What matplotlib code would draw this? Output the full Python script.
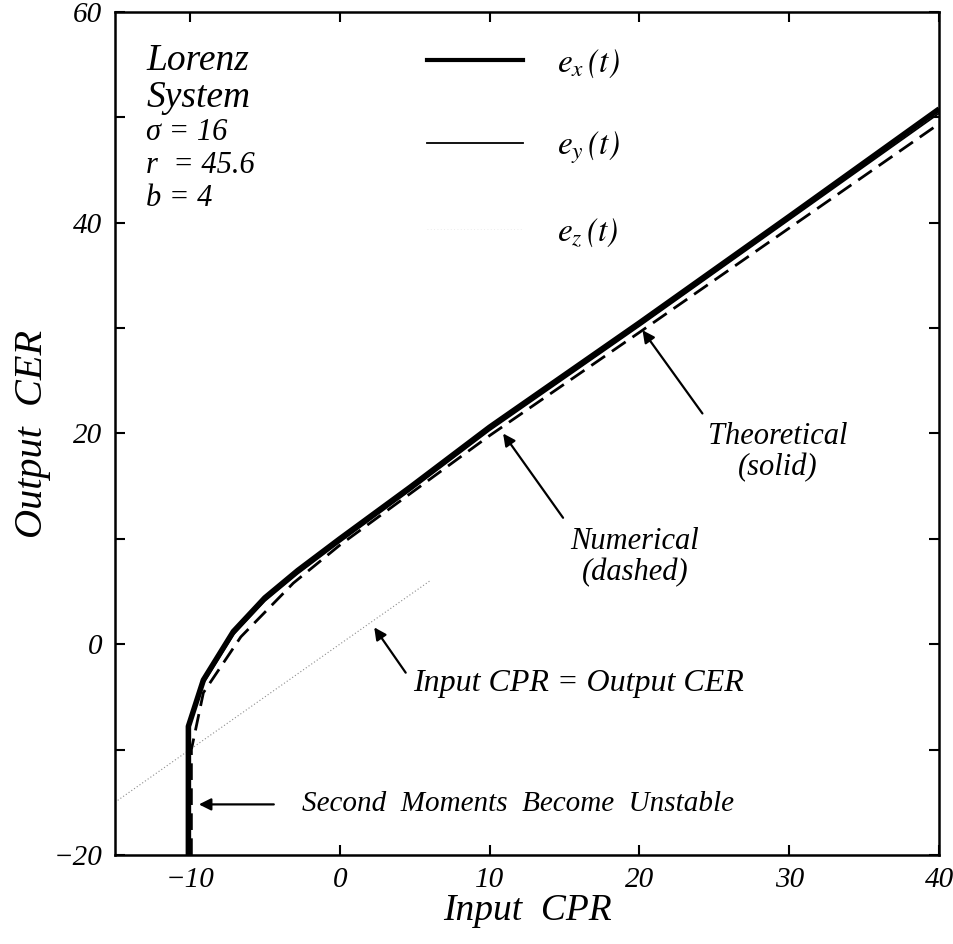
import matplotlib.pyplot as plt
from matplotlib.lines import Line2D

plt.rcParams['font.family'] = ['Liberation Serif', 'DejaVu Serif']
plt.rcParams['font.style'] = 'italic'
plt.rcParams['mathtext.fontset'] = 'stix'

# theoretical curve (solid)
x_theory = [-10.1, -10.1, -9.1, -7.1, -5.0, -2.8, 0, 4.7, 10, 20, 30, 40]
y_theory = [-20, -7.8, -3.4, 1.2, 4.4, 7.0, 10.0, 14.9, 20.6, 30.5, 40.6, 50.8]
# e_y, practically on top of the theoretical curve
y_ey = [-20, -8.0, -3.7, 0.9, 4.1, 6.7, 9.7, 14.6, 20.3, 30.2, 40.3, 50.4]
# numerical curve (dashed)
x_num = [-9.9, -9.9, -9.1, -6.6, -3.1, 0, 10, 20, 30, 40]
y_num = [-20, -10, -4.6, 0.7, 5.8, 9.4, 19.8, 29.6, 39.5, 49.4]
# Input CPR = Output CER
x_diag = [-15, 6]
y_diag = [-15, 6]

x_ticks = [-10, 0, 10, 20, 30, 40]
y_ticks = [-20, -10, 0, 10, 20, 30, 40, 50, 60]
y_labels = ['\u221220', '', '0', '', '20', '', '40', '', '60']
x_labels = ['\u221210', '0', '10', '20', '30', '40']

fig = plt.figure(figsize=(9.54, 9.44), dpi=100)
ax = fig.add_axes([0.1205, 0.0943, 0.864, 0.893])

ax.plot(x_diag, y_diag, color='0.55', linestyle=(0, (1, 2)), linewidth=0.8)
ax.plot(x_theory, y_theory, color='black', linewidth=4.0, solid_capstyle='butt')
ax.plot(x_theory, y_ey, color='black', linewidth=1.3)
ax.plot(x_num, y_num, color='black', linewidth=2.0, linestyle=(0, (6, 3)))

ax.set_xlim(-15, 40)
ax.set_ylim(-20, 60)
ax.set_xticks(x_ticks)
ax.set_xticklabels(x_labels)
ax.set_yticks(y_ticks)
ax.set_yticklabels(y_labels)
ax.tick_params(direction='in', top=True, right=True, length=7, width=1.5,
               labelsize=21, pad=9)
for s in ax.spines.values():
    s.set_linewidth(1.8)

ax.set_xlabel('Input  CPR', fontsize=27, labelpad=0)
ax.set_ylabel('Output  CER', fontsize=29, labelpad=2)

# parameters box
ax.text(0.038, 0.963, 'Lorenz\nSystem', transform=ax.transAxes, fontsize=27,
        va='top', ha='left', linespacing=1.1)
ax.text(0.038, 0.874, '\u03c3 = 16\nr  = 45.6\nb = 4', transform=ax.transAxes,
        fontsize=22, va='top', ha='left', linespacing=1.18)

# legend
handles = [Line2D([], [], color='black', linewidth=3.0),
           Line2D([], [], color='black', linewidth=1.3),
           Line2D([], [], color='0.9', linewidth=0.6, linestyle=(0, (1, 3)))]
labels = ['$e_x\\,(t)$', '$e_y\\,(t)$', '$e_z\\,(t)$']
ax.legend(handles, labels, loc='upper left', bbox_to_anchor=(0.378, 0.958),
          frameon=False, fontsize=24, handlelength=2.9, handletextpad=1.0,
          labelspacing=1.5, borderpad=0, borderaxespad=0)

# annotations
arrow = dict(arrowstyle='-|>', color='black', lw=1.6, mutation_scale=18,
             shrinkA=0, shrinkB=0)
ax.annotate('', xy=(20.2, 29.8), xytext=(24.2, 21.9), arrowprops=arrow)
ax.text(29.2, 18.2, 'Theoretical\n(solid)', fontsize=22, ha='center',
        va='center', linespacing=1.1)
ax.annotate('', xy=(10.9, 20.0), xytext=(14.9, 12.0), arrowprops=arrow)
ax.text(19.7, 8.3, 'Numerical\n(dashed)', fontsize=22, ha='center',
        va='center', linespacing=1.1)
ax.annotate('', xy=(2.3, 1.6), xytext=(4.4, -2.7), arrowprops=arrow)
ax.text(4.9, -3.7, 'Input CPR = Output CER', fontsize=23, ha='left',
        va='center')
ax.annotate('', xy=(-9.4, -15.2), xytext=(-4.4, -15.2), arrowprops=arrow)
ax.text(-2.5, -15.2, 'Second  Moments  Become  Unstable', fontsize=21,
        ha='left', va='center')

plt.savefig('out.png', dpi=100)
